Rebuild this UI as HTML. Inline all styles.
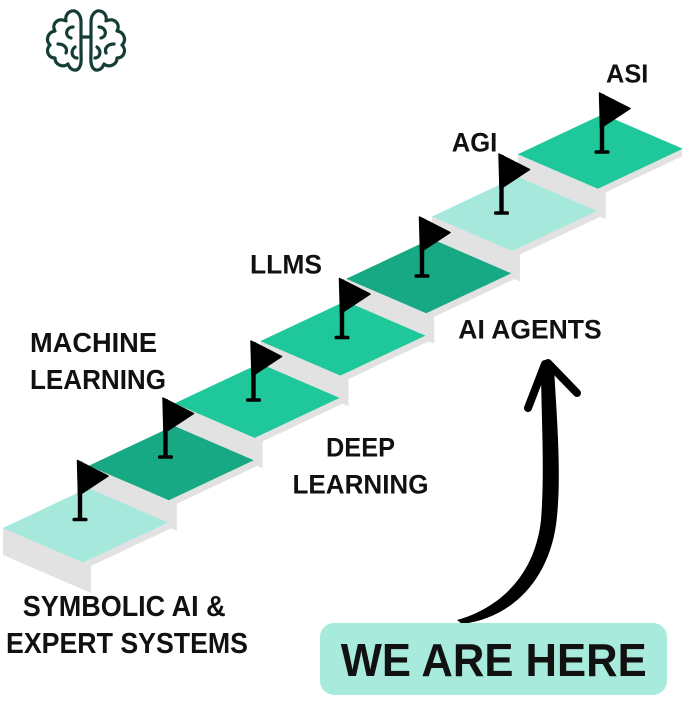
<!DOCTYPE html>
<html>
<head>
<meta charset="utf-8">
<style>
  html,body{margin:0;padding:0;background:#fff;}
  svg{display:block;}
  .t{font-family:"Liberation Sans",Arial,sans-serif;font-weight:bold;fill:#111;}
</style>
</head>
<body>
<svg width="682" height="706" viewBox="0 0 682 706" xmlns="http://www.w3.org/2000/svg">
  <rect width="682" height="706" fill="#fff"/>

  <!-- Brain logo -->
  <g fill="none" stroke="#143d36" stroke-width="3.2" stroke-linecap="round" stroke-linejoin="round">
    <g id="halfbrain">
      <path d="M81 37 L81 22 C81 14 76 10 72 11 C67 12 65 17 66 21 C58 17 51 24 55 31 C48 32 45 40 50 45 C45 50 48 58 55 58 C55 65 63 68 68 64 C70 70 76 72 79 68 C82 64 81 58 81 50 L81 37"/>
      <path d="M73 27 C66 27 64 36 71 38"/>
      <path d="M58 44 C64 44 68 48 66 53"/>
      <path d="M75 47 C70 51 72 58 77 58"/>
    </g>
    <g transform="translate(172,0) scale(-1,1)">
      <path d="M81 37 L81 22 C81 14 76 10 72 11 C67 12 65 17 66 21 C58 17 51 24 55 31 C48 32 45 40 50 45 C45 50 48 58 55 58 C55 65 63 68 68 64 C70 70 76 72 79 68 C82 64 81 58 81 50 L81 37"/>
      <path d="M73 27 C66 27 64 36 71 38"/>
      <path d="M58 44 C64 44 68 48 66 53"/>
      <path d="M75 47 C70 51 72 58 77 58"/>
    </g>
    <path d="M81 37 L91 37"/>
  </g>

  <!-- Steps (back to front) -->
  <g>
    <!-- k=6 -->
    <polygon fill="#e2e2e2" points="517.8,154.2 517.8,181.2 605.8,219.2 605.8,192.2 690.8,152.2 682.8,148.7"/>
    <polygon fill="#1ec89b" points="517.8,154.2 597.8,188.7 682.8,148.7 602.8,114.2"/>
    <!-- k=5 -->
    <polygon fill="#e2e2e2" points="432,216.5 432,243.5 520,281.5 520,254.5 605,214.5 597,211"/>
    <polygon fill="#a6e9dc" points="432,216.5 512,251 597,211 517,176.5"/>
    <!-- k=4 -->
    <polygon fill="#e2e2e2" points="346.2,278.8 346.2,305.8 434.2,343.8 434.2,316.8 519.2,276.8 511.2,273.3"/>
    <polygon fill="#17a884" points="346.2,278.8 426.2,313.3 511.2,273.3 431.2,238.8"/>
    <!-- k=3 -->
    <polygon fill="#e2e2e2" points="260.4,341.1 260.4,368.1 348.4,406.1 348.4,379.1 433.4,339.1 425.4,335.6"/>
    <polygon fill="#1ec89b" points="260.4,341.1 340.4,375.6 425.4,335.6 345.4,301.1"/>
    <!-- k=2 -->
    <polygon fill="#e2e2e2" points="174.6,403.4 174.6,430.4 262.6,468.4 262.6,441.4 347.6,401.4 339.6,397.9"/>
    <polygon fill="#1ec89b" points="174.6,403.4 254.6,437.9 339.6,397.9 259.6,363.4"/>
    <!-- k=1 -->
    <polygon fill="#e2e2e2" points="88.8,465.7 88.8,492.7 176.8,530.7 176.8,503.7 261.8,463.7 253.8,460.2"/>
    <polygon fill="#17a884" points="88.8,465.7 168.8,500.2 253.8,460.2 173.8,425.7"/>
    <!-- k=0 -->
    <polygon fill="#e2e2e2" points="3,528 3,555 91,593 91,566 176,526 168,522.5"/>
    <polygon fill="#a6e9dc" points="3,528 83,562.5 168,522.5 88,488"/>
  </g>

  <!-- Flags -->
  <defs>
    <g id="flag">
      <rect x="-2.2" y="-58" width="4.4" height="58" fill="#000"/>
      <polygon points="-2.5,-59 28,-43.5 -1.5,-24" fill="#000" stroke="#000" stroke-width="1.5" stroke-linejoin="round"/>
      <rect x="-7.5" y="-1.8" width="15" height="3.6" rx="1.6" fill="#000"/>
    </g>
  </defs>
  <use href="#flag" transform="translate(80,519.5)"/>
  <use href="#flag" transform="translate(165.5,457)"/>
  <use href="#flag" transform="translate(253.5,400)"/>
  <use href="#flag" transform="translate(342,337.5)"/>
  <use href="#flag" transform="translate(422,276)"/>
  <use href="#flag" transform="translate(501.5,213)"/>
  <use href="#flag" transform="translate(602,152)"/>

  <!-- Labels -->
  <text class="t" x="30" y="352" font-size="28" textLength="127" lengthAdjust="spacingAndGlyphs">MACHINE</text>
  <text class="t" x="30" y="389" font-size="28" textLength="136" lengthAdjust="spacingAndGlyphs">LEARNING</text>
  <text class="t" x="250" y="273.5" font-size="26.5" textLength="72" lengthAdjust="spacingAndGlyphs">LLMS</text>
  <text class="t" x="326" y="456.5" font-size="26.5" textLength="69" lengthAdjust="spacingAndGlyphs">DEEP</text>
  <text class="t" x="292.5" y="493.5" font-size="26.5" textLength="136" lengthAdjust="spacingAndGlyphs">LEARNING</text>
  <text class="t" x="458.3" y="338.3" font-size="26.5" textLength="143.4" lengthAdjust="spacingAndGlyphs">AI AGENTS</text>
  <text class="t" x="451.7" y="151.7" font-size="26.5" textLength="45.6" lengthAdjust="spacingAndGlyphs">AGI</text>
  <text class="t" x="606" y="82.7" font-size="26" textLength="42.3" lengthAdjust="spacingAndGlyphs">ASI</text>
  <text class="t" x="22.7" y="616" font-size="29" textLength="203" lengthAdjust="spacingAndGlyphs">SYMBOLIC AI &amp;</text>
  <text class="t" x="6" y="653" font-size="29" textLength="242" lengthAdjust="spacingAndGlyphs">EXPERT SYSTEMS</text>

  <!-- Arrow -->
  <path fill="#000" d="M457 620 C500 608 535 575 541 520 C545 470 541 410 541 368 L549 360 L554 368 C557 420 562 480 556 525 C548 580 512 618 462 624 Z"/>
  <path d="M545 364 L528 408" stroke="#000" stroke-width="8" stroke-linecap="round" fill="none"/>
  <path d="M548 363 L577 393" stroke="#000" stroke-width="8" stroke-linecap="round" fill="none"/>

  <!-- WE ARE HERE box -->
  <rect x="320" y="623" width="347" height="72" rx="14" fill="#a8ebdd"/>
  <text class="t" x="340.7" y="676" font-size="46" textLength="306" lengthAdjust="spacingAndGlyphs">WE ARE HERE</text>
</svg>
</body>
</html>
